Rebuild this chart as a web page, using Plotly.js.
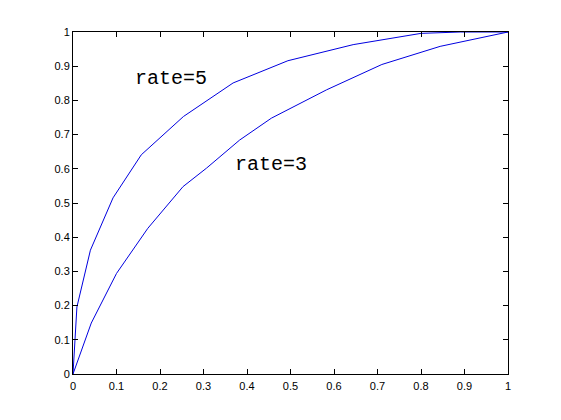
<!DOCTYPE html>
<html>
<head>
<meta charset="utf-8">
<script src="https://cdn.plot.ly/plotly-3.0.1.min.js"></script>
<style>html,body{margin:0;padding:0;background:#fff;}</style>
</head>
<body>
<div id="chart" style="width:561px;height:420px;"></div>
<script>
// rate=5 curve
var xRate5 = [0, 0.002, 0.009, 0.04, 0.092, 0.157, 0.254, 0.368, 0.494, 0.644, 0.80, 0.89, 1];
var yRate5 = [0, 0.05, 0.196, 0.362, 0.515, 0.641, 0.753, 0.851, 0.916, 0.963, 0.996, 1, 1];
// rate=3 curve
var xRate3 = [0, 0.042, 0.10, 0.172, 0.253, 0.307, 0.383, 0.456, 0.583, 0.71, 0.844, 1];
var yRate3 = [0, 0.149, 0.294, 0.426, 0.548, 0.602, 0.684, 0.748, 0.831, 0.905, 0.958, 1];
// labels
var labelText = ["rate=5", "rate=3"];
var labelX = [0.225, 0.456];
var labelY = [0.864, 0.614];

var traces = [
  {x: xRate5, y: yRate5, mode: 'lines', line: {color: '#0000e0', width: 1}, hoverinfo: 'skip'},
  {x: xRate3, y: yRate3, mode: 'lines', line: {color: '#0000e0', width: 1}, hoverinfo: 'skip'}
];

var axisCommon = {
  range: [0, 1],
  dtick: 0.1,
  tick0: 0,
  ticks: 'inside',
  ticklen: 5,
  tickwidth: 1,
  tickcolor: '#000',
  showline: true,
  linecolor: '#000',
  linewidth: 1,
  mirror: 'ticks',
  showgrid: false,
  zeroline: false,
  tickfont: {family: 'Liberation Sans, Arial, sans-serif', size: 11, color: '#000'},
  fixedrange: true
};

var annotations = labelText.map(function (t, i) {
  return {
    x: labelX[i], y: labelY[i], xref: 'x', yref: 'y',
    text: t, showarrow: false,
    xanchor: 'center', yanchor: 'middle',
    font: {family: 'Liberation Mono, Courier New, monospace', size: 20, color: '#000'}
  };
});

var layout = {
  width: 561, height: 420,
  margin: {l: 73, r: 53, t: 32, b: 46, pad: 0},
  paper_bgcolor: '#fff',
  plot_bgcolor: '#fff',
  showlegend: false,
  xaxis: Object.assign({}, axisCommon, {ticklabelstandoff: 2}),
  yaxis: Object.assign({}, axisCommon),
  annotations: annotations
};

Plotly.newPlot('chart', traces, layout, {displayModeBar: false, staticPlot: true});
</script>
</body>
</html>
